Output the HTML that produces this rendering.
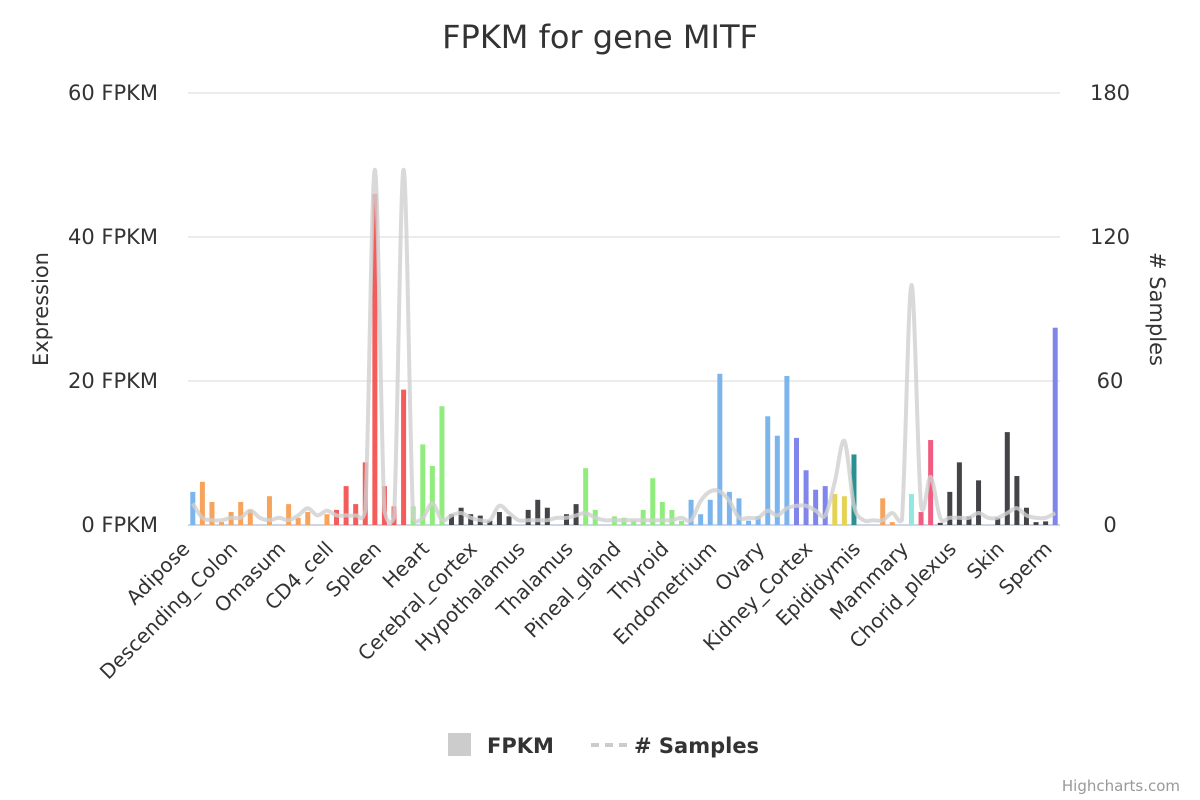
<!DOCTYPE html>
<html><head><meta charset="utf-8">
<style>
body{margin:0;background:#fff;}
svg{display:block;font-family:"DejaVu Sans","Liberation Sans",sans-serif;}
</style></head>
<body>
<svg id="chart" width="1200" height="800" viewBox="0 0 1200 800" xmlns="http://www.w3.org/2000/svg">
<rect width="1200" height="800" fill="#fff"/>
<text x="600" y="48" text-anchor="middle" font-size="32" fill="#333">FPKM for gene MITF</text>
<g id="grid"></g>
<g id="bars"></g>
<g id="line"></g>
<g id="axes"></g>
<text transform="translate(48,309) rotate(-90)" text-anchor="middle" font-size="21" fill="#333">Expression</text>
<text transform="translate(1150,309) rotate(90)" text-anchor="middle" font-size="21" fill="#333"># Samples</text>
<g>
<rect x="448" y="733" width="23" height="23" fill="#ccc"/>
<text x="487" y="753" font-size="21" font-weight="bold" fill="#333">FPKM</text>
</g>
<g>
<line x1="591" y1="745" x2="627" y2="745" stroke="#ccc" stroke-width="4" stroke-dasharray="8,6"/>
<text x="634" y="753" font-size="21" font-weight="bold" fill="#333"># Samples</text>
</g>
<text x="1180" y="791" text-anchor="end" font-size="15" fill="#999">Highcharts.com</text>
</svg>
<script>
const labels = ["Adipose","Descending_Colon","Omasum","CD4_cell","Spleen","Heart","Cerebral_cortex","Hypothalamus","Thalamus","Pineal_gland","Thyroid","Endometrium","Ovary","Kidney_Cortex","Epididymis","Mammary","Chorid_plexus","Skin","Sperm"];
const fpkm = [4.6,6.0,3.2,0.4,1.8,3.2,2.1,0,4.0,0,2.9,1.0,1.8,0,1.5,2.1,5.4,2.9,8.7,46,5.4,2.6,18.8,2.6,11.2,8.2,16.5,1.5,2.4,1.5,1.3,0.6,1.8,1.2,0,2.1,3.5,2.4,0,1.5,2.9,7.9,2.1,0,1.2,1.0,0.6,2.1,6.5,3.2,2.1,0.6,3.5,1.5,3.5,21,4.6,3.7,0.6,1.2,15.1,12.4,20.7,12.1,7.6,4.9,5.4,4.3,4.0,9.8,0,0,3.7,0.4,0,4.3,1.8,11.8,0.3,4.6,8.7,1.2,6.2,0,1.0,12.9,6.8,2.4,0.4,0.5,27.4];
const samples = [9,3,2,2,3,3,6,3,2,3,2,4,7,4,6,4,4,4,6,148,6,3,148,3,3,9,2,4,5,3,2,2,8,5,2,2,2,2,3,3,4,5,3,2,2,2,2,2,2,2,2,3,2,10,14,14,10,3,3,3,6,4,7,8,8,6,4,18,35,8,2,2,2,5,2,100,8,20,3,3,3,3,5,3,3,5,7,4,3,3,5];
const groupColors = ["#7cb5ec","#f7a35c","#f45b5b","#90ed7d","#434348","#90ed7d","#7cb5ec","#8085e9","#e4d354","#2b908f","#f7a35c","#91e8e1","#f15c80","#434348","#8085e9"];
const groupStarts = [0,1,15,23,27,41,52,63,67,69,70,75,76,78,90];

const NS="http://www.w3.org/2000/svg";
const X0=188,X1=1060,Y0=525,Y1=93,N=fpkm.length,step=(X1-X0)/N;
const xc=i=>X0+step*(i+0.5);
const y1=v=>Y0-(v/60)*(Y0-Y1);
const y2=v=>Y0-(v/180)*(Y0-Y1);
function mk(t,a,p){const e=document.createElementNS(NS,t);for(const k in a)e.setAttribute(k,a[k]);p.appendChild(e);return e;}
function colorFor(i){let c=groupColors[0];for(let g=0;g<groupStarts.length;g++)if(i>=groupStarts[g])c=groupColors[g];return c;}

const grid=document.getElementById('grid'),axes=document.getElementById('axes');
[0,20,40,60].forEach((v,k)=>{
  const l=mk('line',{x1:X0,x2:X1,y1:y1(v),y2:y1(v),stroke:v===0?'#ccd6eb':'#e6e6e6','stroke-width':v===0?2:1.5},grid);
  
  
  const t=mk('text',{x:158,y:y1(v)+7,'text-anchor':'end','font-size':21,fill:'#333'},axes);
  t.textContent=v+' FPKM';
  
  
  const r=mk('text',{x:1110,y:y2(v*3)+7,'text-anchor':'middle','font-size':21,fill:'#333'},axes);
  r.textContent=String(v*3);
  
  
});
labels.forEach((lab,k)=>{
  const i=k*5,x=xc(i)-2,y=550;
  const t=mk('text',{x:x,y:y,'text-anchor':'end','font-size':20,fill:'#333',transform:`rotate(-45 ${x} ${y})`},axes);
  t.textContent=lab;
  
  
});
const bars=document.getElementById('bars');
fpkm.forEach((v,i)=>{
  if(v<=0)return;
  const r=mk('rect',{x:xc(i)-2.5,y:y1(v),width:5,height:Y0-y1(v),fill:colorFor(i)},bars);
  
  
});
const pts=samples.map((v,i)=>[xc(i),y2(v)]);
let d='M'+pts[0][0]+','+pts[0][1];
for(let i=0;i<pts.length-1;i++){
  const p0=pts[Math.max(0,i-1)],p1=pts[i],p2=pts[i+1],p3=pts[Math.min(pts.length-1,i+2)];
  const c1x=p1[0]+(p2[0]-p0[0])/6,c1y=p1[1]+(p2[1]-p0[1])/6;
  const c2x=p2[0]-(p3[0]-p1[0])/6,c2y=p2[1]-(p3[1]-p1[1])/6;
  d+=` C${c1x},${Math.min(Y0,c1y)} ${c2x},${Math.min(Y0,c2y)} ${p2[0]},${p2[1]}`;
}
const path=mk('path',{d:d,fill:'none',stroke:'#cfcfcf','stroke-width':4,'stroke-opacity':0.8},document.getElementById('line'));


</script>
</body></html>
